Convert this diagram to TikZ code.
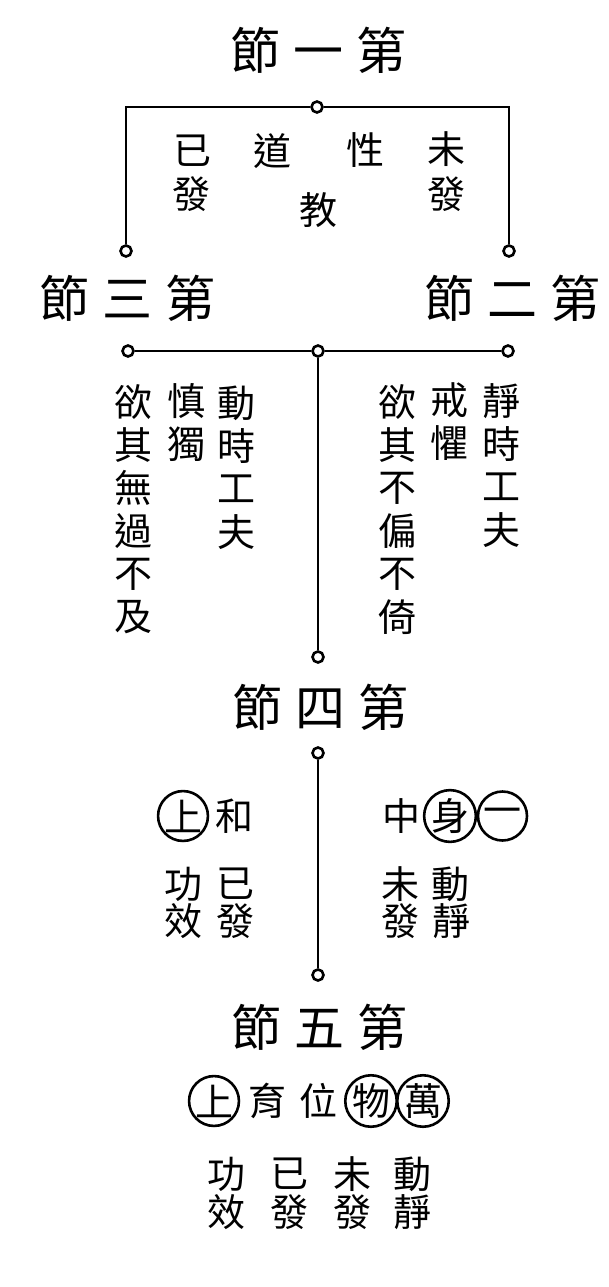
\documentclass[tikz,border=0pt]{standalone}
\usepackage{fontspec}
\setmainfont{Noto Sans CJK TC}
\usetikzlibrary{calc}
\newcommand{\titlegap}{\hspace{13pt}}

\begin{document}
\begin{tikzpicture}[x=1pt, y=-1pt,
    title/.style={font=\fontsize{50}{50}\selectfont, inner sep=0pt},
    word/.style={font=\fontsize{38}{38}\selectfont, inner sep=0pt},
    ring/.style={word, draw, circle, line width=2.6pt, minimum size=49pt},
    joint/.style={draw, circle, fill=white, line width=2.6pt, minimum size=11pt, inner sep=0pt},
    link/.style={line width=2.8pt}]
    \useasboundingbox (0,0) rectangle (608,1287);
    % section one
    \node [title] (s1) at (318,50) {節\titlegap 一\titlegap 第};
    \node [joint] (j1) at (317,107) {};
    \node [joint] (j3) at (126,251) {};
    \node [joint] (j2) at (509,251) {};
    \draw [link] (j1) -| (j3);
    \draw [link] (j1) -| (j2);
    \node [word] (w1) at (192,151) {已};
    \node [word] (w2) at (191,194) {發};
    \node [word] (w3) at (272,151) {道};
    \node [word] (w4) at (365,150) {性};
    \node [word] (w5) at (446,149) {未};
    \node [word] (w6) at (446,194) {發};
    \node [word] (w7) at (318,210) {教};
    % sections three and two
    \node [title] (s3) at (127,298) {節\titlegap 三\titlegap 第};
    \node [title] (s2) at (512,298) {節\titlegap 二\titlegap 第};
    \node [joint] (k3) at (128,351) {};
    \node [joint] (k4) at (318,351) {};
    \node [joint] (k2) at (508,351) {};
    \node [joint] (k5) at (318,657) {};
    \draw [link] (k3) -- (k4) -- (k2);
    \draw [link] (k4) -- (k5);
    \foreach \ch [count=\i from 0] in {欲,其,無,過,不,及}
        \node [word] (la\i) at (133,{402+43*\i}) {\ch};
    \foreach \ch [count=\i from 0] in {慎,獨}
        \node [word] (lb\i) at (186,{401+43*\i}) {\ch};
    \foreach \ch [count=\i from 0] in {動,時,工,夫}
        \node [word] (lc\i) at (236,{403+43*\i}) {\ch};
    \foreach \ch [count=\i from 0] in {欲,其,不,偏,不,倚}
        \node [word] (ra\i) at (397,{402+43*\i}) {\ch};
    \foreach \ch [count=\i from 0] in {戒,懼}
        \node [word] (rb\i) at (449,{400+43*\i}) {\ch};
    \foreach \ch [count=\i from 0] in {靜,時,工,夫}
        \node [word] (rc\i) at (501,{401+43*\i}) {\ch};
    % section four
    \node [title] (s4) at (320,707) {節\titlegap 四\titlegap 第};
    \node [joint] (m1) at (318,753) {};
    \node [joint] (m2) at (318,975) {};
    \draw [link] (m1) -- (m2);
    \node [ring] (f1) at (183,816) {上};
    \node [word] (f2) at (234,816) {和};
    \node [word] (f3) at (401,816) {中};
    \node [ring] (f4) at (450,816) {身};
    \node [ring] (f5) at (502.5,816) {一};
    \node [word] (g1) at (183,884) {功};
    \node [word] (g2) at (183,921) {效};
    \node [word] (g3) at (235,884) {已};
    \node [word] (g4) at (235,921) {發};
    \node [word] (g5) at (400,884) {未};
    \node [word] (g6) at (400,921) {發};
    \node [word] (g7) at (450,884) {動};
    \node [word] (g8) at (451,921) {靜};
    % section five
    \node [title] (s5) at (319,1027) {節\titlegap 五\titlegap 第};
    \node [ring] (h1) at (214,1101) {上};
    \node [word] (h2) at (267,1101) {育};
    \node [word] (h3) at (318,1101) {位};
    \node [ring] (h4) at (371,1101) {物};
    \node [ring] (h5) at (423,1101) {萬};
    \foreach \up/\dn/\x [count=\i] in {功/效/226, 已/發/289, 未/發/352, 動/靜/412} {
        \node [word] (p\i) at (\x,1174) {\up};
        \node [word] (q\i) at (\x,1212) {\dn};
    }
\end{tikzpicture}
\end{document}
